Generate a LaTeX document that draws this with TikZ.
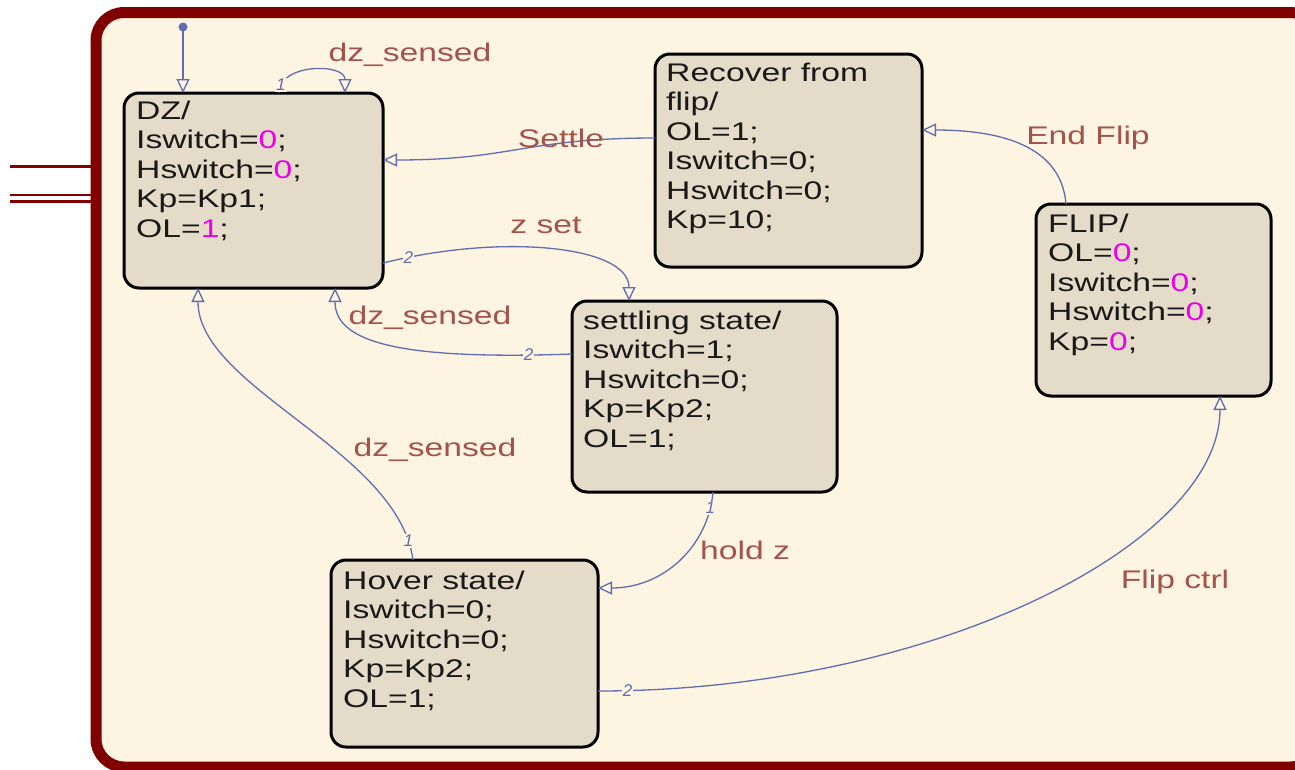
\documentclass[tikz,border=0pt]{standalone}
\usepackage{fontspec}
\setmainfont{Liberation Sans}
\newfontfamily\stf{Liberation Sans}[FakeStretch=1.32]
\usetikzlibrary{arrows.meta,calc}
\definecolor{frame}{RGB}{128,0,0}
\definecolor{bg}{RGB}{253,244,225}
\definecolor{stfill}{RGB}{228,219,200}
\definecolor{conn}{RGB}{95,110,175}
\definecolor{trl}{RGB}{163,82,76}
\definecolor{val}{RGB}{235,0,235}
\definecolor{txt}{RGB}{25,25,25}
\begin{document}
\begin{tikzpicture}[x=1pt,y=-1pt,
  stbox/.style={draw=black, line width=3pt, fill=stfill, rounded corners=15pt, rectangle, inner sep=0pt, outer sep=0pt},
  stxt/.style={font=\stf\fontsize{25.5}{29.5}\selectfont, text=txt, align=left, inner sep=0pt, anchor=base west},
  trans/.style={draw=conn, line width=1.3pt, -{Triangle[open,length=14pt,width=13pt]}},
  tlabel/.style={font=\stf\fontsize{25.5}{29.5}\selectfont, text=trl, inner sep=0pt},
  num/.style={font=\itshape\fontsize{17}{17}\selectfont, text=conn, fill=bg, inner sep=1pt},
  wire/.style={draw=frame, line width=3pt}
]
\useasboundingbox (0,0) rectangle (1295,769);
\fill[white] (0,0) rectangle (1295,769);
\begin{scope}
\clip (0,0) rectangle (1295,769);
\draw[draw=frame, line width=11pt, fill=bg, rounded corners=28pt] (96,12.5) rectangle (1318,767);
\end{scope}
% input wires
\draw[wire] (10,166) -- (91,166);
\draw[wire, line width=2.5pt] (10,195) -- (91,195);
\draw[wire, line width=2.5pt] (10,201.5) -- (91,201.5);

% states
\node[stbox, minimum width=259pt, minimum height=195pt] (dz) at (253.5,190.5) {};
\node[stbox, minimum width=267pt, minimum height=213pt] (rec) at (788.5,160.5) {};
\node[stbox, minimum width=235pt, minimum height=192pt] (flip) at (1153.5,300) {};
\node[stbox, minimum width=265pt, minimum height=191pt] (set) at (704.5,396.5) {};
\node[stbox, minimum width=267pt, minimum height=187pt] (hov) at (464.5,653.5) {};

% text: anchor base west refers to the last line's baseline
\node[stxt] (dzt) at ($(dz.north west)+(12,144)$) {DZ/\\Iswitch=\textcolor{val}{0};\\Hswitch=\textcolor{val}{0};\\Kp=Kp1;\\OL=\textcolor{val}{1};};
\node[stxt] (rect) at ($(rec.north west)+(11,174.5)$) {Recover from\\flip/\\OL=1;\\Iswitch=0;\\Hswitch=0;\\Kp=10;};
\node[stxt] (flipt) at ($(flip.north west)+(12,146)$) {FLIP/\\OL=\textcolor{val}{0};\\Iswitch=\textcolor{val}{0};\\Hswitch=\textcolor{val}{0};\\Kp=\textcolor{val}{0};};
\node[stxt] (sett) at ($(set.north west)+(11,146)$) {settling state/\\Iswitch=1;\\Hswitch=0;\\Kp=Kp2;\\OL=1;};
\node[stxt] (hovt) at ($(hov.north west)+(12,147)$) {Hover state/\\Iswitch=0;\\Hswitch=0;\\Kp=Kp2;\\OL=1;};

% initial transition
\coordinate (init) at (183,27);
\fill[conn] (init) circle (4.5pt);
\draw[trans] (init) -- (init |- dz.north);

% DZ self loop
\draw[trans] ($(dz.north west)+(155,0)$) .. controls +(0,-30) and +(0,-30) .. ($(dz.north west)+(221,0)$)
  node[num, pos=0.1] {1};
\node[tlabel] (l1) at (410,55) {dz\_sensed};

% Settle
\draw[trans] ($(rec.north west)+(0,84)$) .. controls +(-130,0) and +(130,0) .. ($(dz.north east)+(0,67)$);
\node[tlabel] (l2) at (561,138) {Settle};

% End Flip
\draw[trans] ($(flip.north west)+(30,0)$) .. controls +(-5,-60) and +(75,0) .. ($(rec.north east)+(0,76)$);
\node[tlabel] (l3) at (1088,138) {End Flip};

% z set
\draw[trans] ($(dz.north east)+(0,170)$) .. controls +(120,-30) and +(0,-55) .. ($(set.north west)+(57,0)$)
  node[num, pos=0.07] {2};
\node[tlabel] (l4) at (546,225) {z set};

% dz_sensed settling -> DZ
\draw[trans] ($(set.north west)+(0,53)$) .. controls +(-170,6) and +(0,55) .. ($(dz.south west)+(211,0)$)
  node[num, pos=0.09] {2};
\node[tlabel] (l5) at (430,318) {dz\_sensed};

% dz_sensed hover -> DZ
\draw[trans] ($(hov.north west)+(82,0)$) .. controls +(-15,-110) and +(0,100) .. ($(dz.south west)+(74,0)$)
  node[num, pos=0.06] {1};
\node[tlabel] (l6) at (435,450) {dz\_sensed};

% hold z
\draw[trans] ($(set.south west)+(141,0)$) .. controls +(-5,55) and +(65,0) .. ($(hov.north east)+(0,28)$)
  node[num, pos=0.1] {1};
\node[tlabel] (l7) at (745,550) {hold z};

% Flip ctrl
\draw[trans] ($(hov.north east)+(0,131)$) .. controls +(330,0) and +(0,150) .. ($(flip.south west)+(184,0)$)
  node[num, pos=0.03] {2};
\node[tlabel] (l8) at (1175,582) {Flip ctrl};
\end{tikzpicture}
\end{document}
